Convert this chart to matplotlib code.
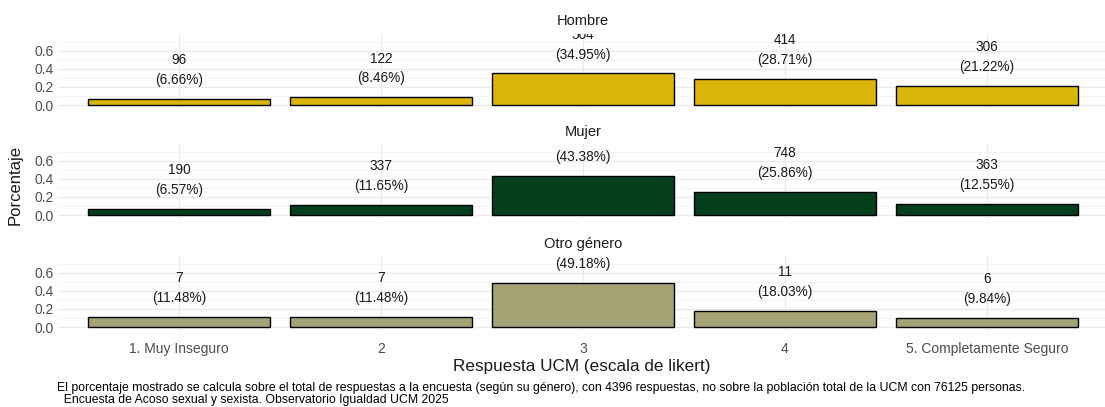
import numpy as np
import matplotlib.pyplot as plt

categories = ["1. Muy Inseguro", "2", "3", "4", "5. Completamente Seguro"]
genders = ["Hombre", "Mujer", "Otro género"]
counts_hombre = [96, 122, 504, 414, 306]
counts_mujer = [190, 337, 1255, 748, 363]
counts_otro = [7, 7, 30, 11, 6]
pct_hombre = [6.66, 8.46, 34.95, 28.71, 21.22]
pct_mujer = [6.57, 11.65, 43.38, 25.86, 12.55]
pct_otro = [11.48, 11.48, 49.18, 18.03, 9.84]
colors = ["#DAB60A", "#033F1C", "#A3A375"]

caption = ("El porcentaje mostrado se calcula sobre el total de respuestas a la encuesta "
           "(según su género), con 4396 respuestas, no sobre la población total de la UCM "
           "con 76125 personas.\n  Encuesta de Acoso sexual y sexista. Observatorio Igualdad UCM 2025")

plt.rcParams["font.family"] = ["Liberation Sans", "DejaVu Sans"]

W, H = 1105, 407
fig = plt.figure(figsize=(W / 100, H / 100), dpi=100)

# panel (top, bottom) in pixels, strip label y
panels = [(34, 108.4), (144, 218.4), (256, 330.4)]
strip_y = [21, 132, 244]
left_px, right_px = 58, 1108
ytop = 0.7875

all_counts = [counts_hombre, counts_mujer, counts_otro]
all_pct = [pct_hombre, pct_mujer, pct_otro]
x = np.arange(len(categories))

for i, (top, bot) in enumerate(panels):
    ax = fig.add_axes([left_px / W, (H - bot) / H, (right_px - left_px) / W, (bot - top) / H])
    vals = np.array(all_pct[i]) / 100
    ax.set_xlim(-0.6, 4.6)
    ax.set_ylim(-0.0375, ytop)
    ax.set_yticks([0.0, 0.2, 0.4, 0.6])
    ax.set_yticks([0.1, 0.3, 0.5, 0.7], minor=True)
    ax.set_xticks(x)
    ax.grid(True, which="major", color="#EBEBEB", linewidth=1.0)
    ax.grid(True, which="minor", axis="y", color="#F2F2F2", linewidth=0.6)
    ax.set_axisbelow(True)
    for s in ax.spines.values():
        s.set_visible(False)
    ax.tick_params(axis="both", which="both", length=0, labelsize=10, colors="#4D4D4D", pad=3)
    ax.set_yticklabels(["0.0", "0.2", "0.4", "0.6"])
    ax.bar(x, vals, width=0.9, color=colors[i], edgecolor="black", linewidth=1.0)
    for xi, v, c, p in zip(x, vals, all_counts[i], all_pct[i]):
        # labels are clipped by the panel like in the original
        for txt, off in ((f"({p:.2f}%)", 0.21), (f"{c}", 0.43)):
            if v + off - 0.05 > ytop:
                continue
            ax.text(xi, v + off, txt, ha="center", va="center", fontsize=9.8,
                    color="#1A1A1A", clip_on=True)
    ax.text(0.5, 1.0 + (top - strip_y[i]) / (bot - top), genders[i],
            transform=ax.transAxes, ha="center", va="center", fontsize=10.5, color="#1A1A1A")
    if i < 2:
        ax.set_xticklabels([])
    else:
        ax.set_xticklabels(categories)
        ax.tick_params(axis="x", pad=8)

fig.text((left_px + 1105) / 2 / W, 1 - 366 / H, "Respuesta UCM (escala de likert)",
         ha="center", va="center", fontsize=12.3, color="#1A1A1A")
fig.text(15 / W, 1 - 185 / H, "Porcentaje", rotation=90, ha="center", va="center",
         fontsize=12, color="#1A1A1A")
fig.text(57 / W, 1 - 394 / H, caption, ha="left", va="center", fontsize=8.85,
         color="black", linespacing=1.0)

fig.savefig("out.png", dpi=100, facecolor="white")
